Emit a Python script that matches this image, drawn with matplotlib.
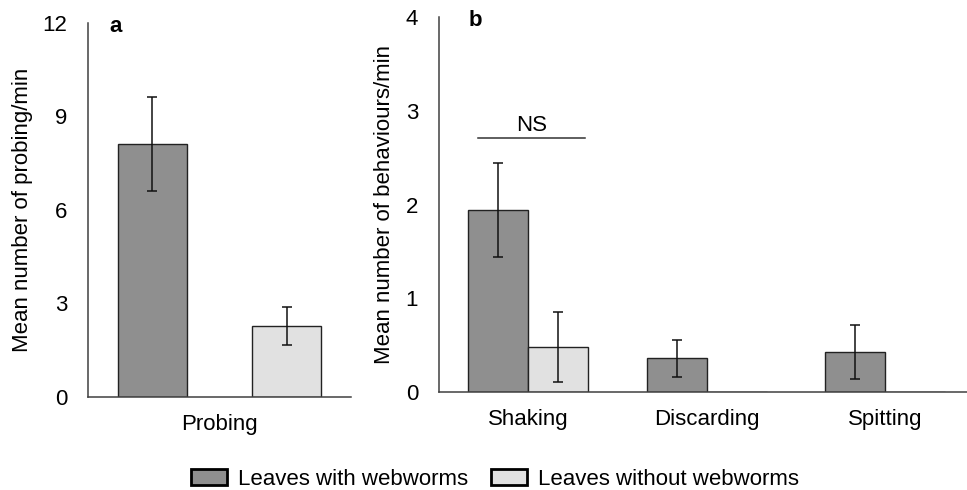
import numpy as np
import matplotlib.pyplot as plt
from matplotlib.patches import Patch

plt.rcParams['font.family'] = ['Liberation Sans', 'DejaVu Sans']

# panel a data
probe_cat = ['Probing']
probe_with = [8.1]
probe_with_err = [1.5]
probe_without = [2.27]
probe_without_err = [0.6]

# panel b data
behaviours = ['Shaking', 'Discarding', 'Spitting']
beh_with = [1.94, 0.36, 0.43]
beh_with_err = [0.5, 0.2, 0.29]
beh_without = [0.48, 0.0, 0.0]
beh_without_err = [0.37, 0.0, 0.0]

legend_labels = ['Leaves with webworms', 'Leaves without webworms']

dark = '#8f8f8f'
light = '#e1e1e1'
edge = '#222222'
fs = 16

fig = plt.figure(figsize=(9.67, 4.9), dpi=100)
ax_a = fig.add_axes([0.091, 0.190, 0.272, 0.764])
ax_b = fig.add_axes([0.454, 0.200, 0.546, 0.765])


def style(ax):
    for s in ['top', 'right']:
        ax.spines[s].set_visible(False)
    for s in ['left', 'bottom']:
        ax.spines[s].set_color('#404040')
        ax.spines[s].set_linewidth(1.1)
    ax.tick_params(axis='both', length=0, labelsize=fs)
    ax.tick_params(axis='y', pad=15)
    ax.tick_params(axis='x', pad=12)


def draw_bars(ax, x, vals, errs, color, width):
    ax.bar(x, vals, width, color=color, edgecolor=edge, linewidth=1.0, zorder=2)
    errs = np.array(errs)
    mask = errs > 0
    ax.errorbar(np.array(x)[mask], np.array(vals)[mask], yerr=errs[mask],
                fmt='none', ecolor='#111111', elinewidth=1.1, capsize=3.5,
                capthick=1.1, zorder=3)


# panel a
xa = np.arange(len(probe_cat))
wa = 0.26
draw_bars(ax_a, xa - 0.255, probe_with, probe_with_err, dark, wa)
draw_bars(ax_a, xa + 0.255, probe_without, probe_without_err, light, wa)
ax_a.set_xlim(-0.5, 0.5)
ax_a.set_ylim(0, 12)
ax_a.set_yticks([0, 3, 6, 9, 12])
ax_a.set_xticks(xa)
ax_a.set_xticklabels(probe_cat)
style(ax_a)
ax_a.set_ylabel('Mean number of probing/min', fontsize=fs)
ax_a.yaxis.set_label_coords(-0.209, 0.5)
ax_a.text(0.103, 0.99, 'a', transform=ax_a.transAxes, fontsize=fs,
          fontweight='bold', ha='center', va='center')

# panel b
xb = np.arange(len(behaviours))
wb = 0.336
draw_bars(ax_b, xb - 0.168, beh_with, beh_with_err, dark, wb)
draw_bars(ax_b, xb + 0.168, beh_without, beh_without_err, light, wb)
ax_b.set_xlim(-0.5, 2.46)
ax_b.set_ylim(0, 4)
ax_b.set_yticks([0, 1, 2, 3, 4])
ax_b.set_xticks(xb)
ax_b.set_xticklabels(behaviours)
style(ax_b)
ax_b.set_ylabel('Mean number of behaviours/min', fontsize=fs)
ax_b.yaxis.set_label_coords(-0.083, 0.5)
ax_b.text(0.068, 0.99, 'b', transform=ax_b.transAxes, fontsize=fs,
          fontweight='bold', ha='center', va='center')

# NS bracket over shaking
ax_b.plot([-0.283, 0.317], [2.71, 2.71], color='#333333', lw=1.1)
ax_b.text(0.02, 2.78, 'NS', ha='center', va='baseline', fontsize=fs)

handles = [Patch(facecolor=dark, edgecolor='black', linewidth=2),
           Patch(facecolor=light, edgecolor='black', linewidth=2)]
fig.legend(handles, legend_labels, loc='center', bbox_to_anchor=(0.512, 0.022),
           ncol=2, frameon=False, fontsize=fs, handlelength=1.6,
           handleheight=0.75, handletextpad=0.5, columnspacing=1.05)

fig.savefig('out.png', dpi=100)
